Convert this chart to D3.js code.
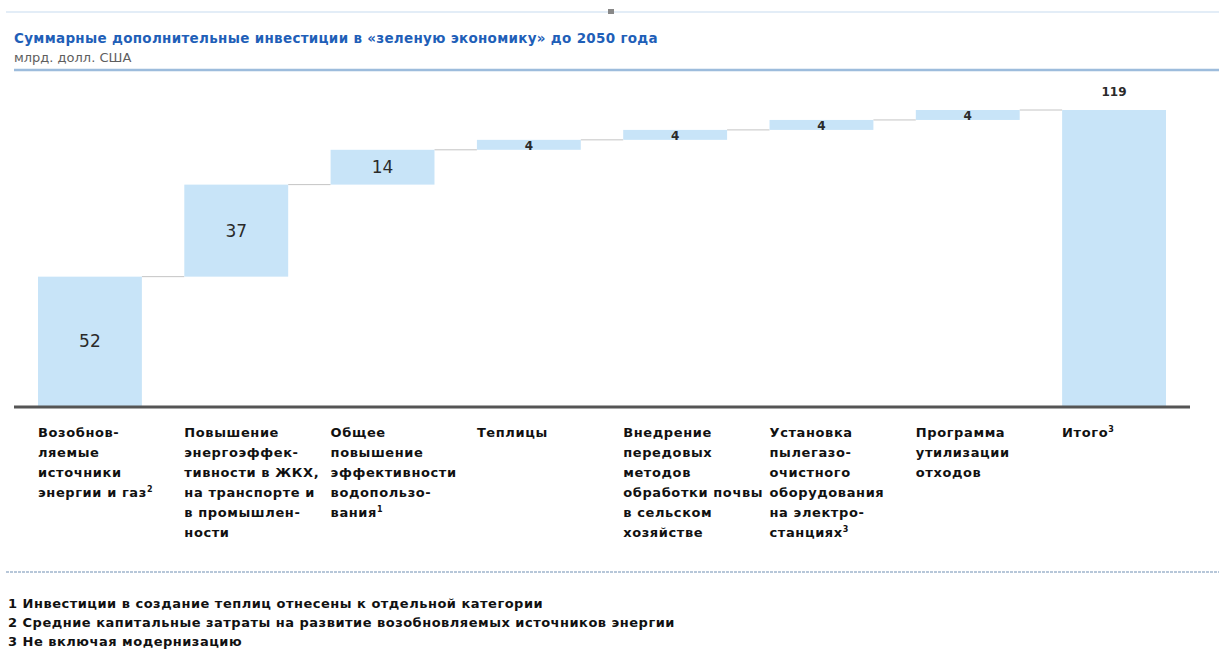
<!DOCTYPE html>
<html>
<head>
<meta charset="utf-8">
<script src="https://cdn.jsdelivr.net/npm/d3@7"></script>
<style>
  body { margin: 0; background: #fff; }
  svg { display: block; }
  text { font-family: "DejaVu Sans", sans-serif; }
</style>
</head>
<body>
<svg id="chart" width="1219" height="660"></svg>
<script>
// chart data
var categories = ["renew", "effic", "water", "green", "soil", "gas", "waste", "total"];
var values = [52, 37, 14, 4, 4, 4, 4, 119];
var is_total = [false, false, false, false, false, false, false, true];
var label_lines = [
    ["Возобнов-", "ляемые", "источники", "энергии и газ|2"],
    ["Повышение", "энергоэффек-", "тивности в ЖКХ,", "на транспорте и", "в промышлен-", "ности"],
    ["Общее", "повышение", "эффективности", "водопользо-", "вания|1"],
    ["Теплицы"],
    ["Внедрение", "передовых", "методов", "обработки почвы", "в сельском", "хозяйстве"],
    ["Установка", "пылегазо-", "очистного", "оборудования", "на электро-", "станциях|3"],
    ["Программа", "утилизации", "отходов"],
    ["Итого|3"]
];
var title = "Суммарные дополнительные инвестиции в «зеленую экономику» до 2050 года";
var subtitle = "млрд. долл. США";
var footnotes = [
    "1 Инвестиции в создание теплиц отнесены к отдельной категории",
    "2 Средние капитальные затраты на развитие возобновляемых источников энергии",
    "3 Не включая модернизацию"
];

var svg = d3.select("#chart");
var bar_color = "#c8e4f8";

// waterfall data: running start/end
var dataset = [];
var running = 0;
for (var i = 0; i < categories.length; i++) {
    var d = {key: categories[i], value: values[i], lines: label_lines[i], total: is_total[i]};
    if (d.total) { d.y0 = 0; d.y1 = d.value; }
    else { d.y0 = running; d.y1 = running + d.value; running = d.y1; }
    dataset.push(d);
}

var x_scale = d3.scaleBand().domain(categories).range([38, 1166]).paddingInner(0.29).paddingOuter(0);
var y_scale = d3.scaleLinear().domain([0, 119]).range([406, 110]);

// top faint line + marker
svg.append("line").attr("x1", 6).attr("x2", 1219).attr("y1", 12).attr("y2", 12)
    .attr("stroke", "#e3edf7").attr("stroke-width", 2);
svg.append("rect").attr("x", 608).attr("y", 9).attr("width", 6).attr("height", 5).attr("fill", "#888");

// title block
svg.append("text").attr("x", 14).attr("y", 43).text(title)
    .attr("font-size", 13.5).attr("letter-spacing", 0.3).attr("font-weight", "bold").attr("fill", "#1f5fb8");
svg.append("text").attr("x", 14).attr("y", 62).text(subtitle)
    .attr("font-size", 13).attr("fill", "#5e5e5e");
svg.append("line").attr("x1", 14).attr("x2", 1219).attr("y1", 70).attr("y2", 70)
    .attr("stroke", "#9dbcdc").attr("stroke-width", 2.5);

// connector lines
var connectors = dataset.slice(0, dataset.length - 1);
svg.selectAll("line.conn")
    .data(connectors)
    .enter()
    .append("line")
    .attr("class", "conn")
    .attr("x1", function(d){return x_scale(d.key) + x_scale.bandwidth();})
    .attr("x2", function(d, i){return x_scale(categories[i + 1]);})
    .attr("y1", function(d){return y_scale(d.y1);})
    .attr("y2", function(d){return y_scale(d.y1);})
    .attr("stroke", "#c4c4c4")
    .attr("stroke-width", 1);

// bars
svg.selectAll("rect.bar")
    .data(dataset)
    .enter()
    .append("rect")
    .attr("class", "bar")
    .attr("x", function(d){return x_scale(d.key);})
    .attr("y", function(d){return y_scale(d.y1);})
    .attr("width", x_scale.bandwidth())
    .attr("height", function(d){return y_scale(d.y0) - y_scale(d.y1);})
    .style("fill", bar_color);

// value labels
svg.selectAll("text.val")
    .data(dataset)
    .enter()
    .append("text")
    .attr("class", "val")
    .attr("text-anchor", "middle")
    .attr("x", function(d){return x_scale(d.key) + x_scale.bandwidth() / 2;})
    .attr("y", function(d){
        if (d.total) return y_scale(d.y1) - 14;
        return (y_scale(d.y0) + y_scale(d.y1)) / 2 + (d.value > 10 ? 6 : 5);
    })
    .attr("font-size", function(d){return (d.value > 10 && !d.total) ? 17 : 12;})
    .attr("font-weight", function(d){return (d.value > 10 && !d.total) ? "normal" : "bold";})
    .attr("fill", "#2a2a2a")
    .text(function(d){return d.value;});

// baseline
svg.append("line").attr("x1", 14).attr("x2", 1190)
    .attr("y1", y_scale(0) + 1).attr("y2", y_scale(0) + 1)
    .attr("stroke", "#555").attr("stroke-width", 3);

// category labels
var cat_text = svg.selectAll("text.cat")
    .data(dataset)
    .enter()
    .append("text")
    .attr("class", "cat")
    .attr("font-size", 13)
    .attr("letter-spacing", 0.6)
    .attr("font-weight", "bold")
    .attr("fill", "#111");

cat_text.each(function(d){
    var t = d3.select(this);
    d.lines.forEach(function(line, j){
        var parts = line.split("|");
        t.append("tspan")
            .attr("x", x_scale(d.key))
            .attr("y", 437 + j * 20)
            .text(parts[0]);
        if (parts.length > 1) {
            t.append("tspan").attr("dy", -5).attr("font-size", 8).text(parts[1]);
        }
    });
});

// footnote separator
svg.append("line").attr("x1", 6).attr("x2", 1219).attr("y1", 572).attr("y2", 572)
    .attr("stroke", "#b7c7d9").attr("stroke-width", 2).attr("stroke-dasharray", "3,1");

svg.selectAll("text.note")
    .data(footnotes)
    .enter()
    .append("text")
    .attr("class", "note")
    .attr("x", 8)
    .attr("y", function(d, i){return 608 + i * 19;})
    .attr("font-size", 13)
    .attr("letter-spacing", 0.5)
    .attr("font-weight", "bold")
    .attr("fill", "#111")
    .text(function(d){return d;});
</script>
</body>
</html>
